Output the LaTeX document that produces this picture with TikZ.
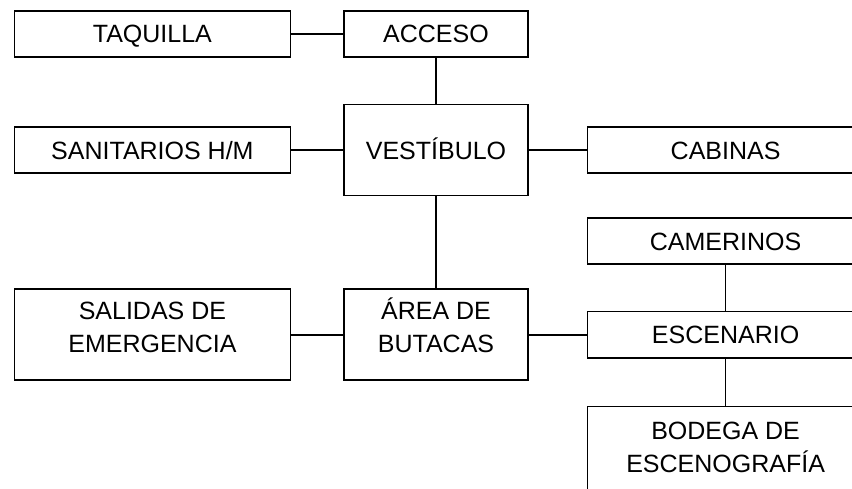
\documentclass[tikz,border=0pt]{standalone}
\usepackage{fontspec}
\setmainfont{Liberation Sans}
\usetikzlibrary{positioning}

\begin{document}
\begin{tikzpicture}[-,line width=1.6pt,auto,node distance=46pt]
	\tikzstyle{caja}=[rectangle,draw=black,fill=white,inner sep=0pt,align=center,font=\fontsize{25pt}{33pt}\selectfont,text height=18pt,text depth=0pt,minimum height=46pt]
	\tikzstyle{caja_ancha}=[caja,minimum width=276pt]
	\tikzstyle{caja_media}=[caja,minimum width=184pt]
	\tikzstyle{caja_alta}=[minimum height=91pt]
	\tikzstyle{dos_lineas}=[text height=51pt,text depth=16pt]

	\useasboundingbox (0,0) rectangle (852pt,-489pt);
	\clip (0,0) rectangle (852pt,-489pt);

	\node[caja_media] (acceso) at (436pt,-34pt) {ACCESO};
	\node[caja_ancha] (taquilla) [left=52pt of acceso] {TAQUILLA};

	\node[caja_media,caja_alta] (vestibulo) [below=of acceso] {VESTÍBULO};
	\node[caja_ancha] (sanitarios) [left=52pt of vestibulo] {SANITARIOS H/M};
	\node[caja_ancha] (cabinas) [right=58pt of vestibulo] {CABINAS};

	\node[caja_media,caja_alta,dos_lineas] (butacas) [below=92pt of vestibulo] {ÁREA DE\\BUTACAS};
	\node[caja_ancha,caja_alta,dos_lineas] (salidas) [left=52pt of butacas] {SALIDAS DE\\EMERGENCIA};
	\node[caja_ancha] (escenario) [right=58pt of butacas] {ESCENARIO};
	\node[caja_ancha] (camerinos) [above=of escenario] {CAMERINOS};
	\node[caja_ancha,caja_alta,dos_lineas,text depth=10pt] (bodega) [below=47pt of escenario] {BODEGA DE\\ESCENOGRAFÍA};

	\draw (taquilla) -- (acceso);
	\draw (acceso) -- (vestibulo);
	\draw (sanitarios) -- (vestibulo);
	\draw (vestibulo) -- (cabinas);
	\draw (vestibulo) -- (butacas);
	\draw (salidas) -- (butacas);
	\draw (butacas.east) -- (butacas.east -| escenario.west);
	\draw (camerinos) -- (escenario);
	\draw (escenario) -- (bodega);
\end{tikzpicture}
\end{document}
